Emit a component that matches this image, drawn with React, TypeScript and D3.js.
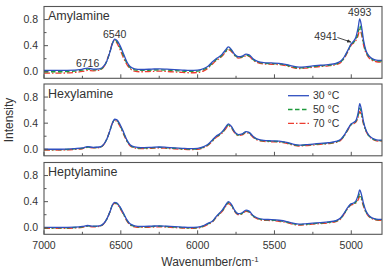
import React from "react";
import * as d3 from "d3";

// wavenumbers (cm-1), shared by all series
const wn = [7000, 6900, 6800, 6750, 6716, 6680, 6640, 6610, 6590, 6570, 6555, 6540, 6525, 6505, 6480, 6460, 6440, 6410, 6370, 6300, 6250, 6200, 6100, 6050, 6000, 5960, 5930, 5905, 5880, 5860, 5840, 5820, 5800, 5780, 5760, 5735, 5710, 5685, 5665, 5640, 5610, 5570, 5520, 5470, 5420, 5380, 5340, 5300, 5250, 5200, 5150, 5100, 5070, 5045, 5020, 5000, 4985, 4970, 4955, 4945, 4935, 4920, 4905, 4890, 4870, 4850, 4825, 4800];

const amyl30 = [0.02, 0.02, 0.025, 0.04, 0.055, 0.04, 0.045, 0.09, 0.17, 0.31, 0.43, 0.5, 0.48, 0.4, 0.26, 0.15, 0.08, 0.045, 0.035, 0.04, 0.045, 0.04, 0.025, 0.02, 0.025, 0.05, 0.09, 0.15, 0.2, 0.23, 0.27, 0.33, 0.38, 0.34, 0.27, 0.23, 0.24, 0.27, 0.26, 0.2, 0.16, 0.14, 0.135, 0.13, 0.11, 0.085, 0.07, 0.075, 0.09, 0.1, 0.11, 0.13, 0.16, 0.23, 0.34, 0.43, 0.47, 0.53, 0.68, 0.81, 0.72, 0.48, 0.33, 0.26, 0.21, 0.185, 0.175, 0.175];
const amyl50 = [0.0, 0.0, 0.01, 0.025, 0.04, 0.03, 0.035, 0.08, 0.17, 0.31, 0.43, 0.49, 0.46, 0.37, 0.23, 0.13, 0.065, 0.03, 0.02, 0.025, 0.03, 0.025, 0.01, 0.005, 0.01, 0.035, 0.075, 0.13, 0.185, 0.215, 0.255, 0.31, 0.36, 0.325, 0.26, 0.22, 0.23, 0.255, 0.245, 0.19, 0.15, 0.13, 0.125, 0.12, 0.1, 0.075, 0.06, 0.065, 0.08, 0.09, 0.1, 0.12, 0.15, 0.22, 0.33, 0.42, 0.45, 0.5, 0.6, 0.71, 0.64, 0.44, 0.31, 0.245, 0.2, 0.175, 0.165, 0.165];
const amyl70 = [-0.02, -0.02, -0.01, 0.005, 0.02, 0.015, 0.025, 0.08, 0.18, 0.32, 0.44, 0.48, 0.44, 0.34, 0.2, 0.11, 0.05, 0.01, 0.0, 0.005, 0.01, 0.005, -0.01, -0.015, -0.01, 0.015, 0.06, 0.115, 0.17, 0.2, 0.24, 0.295, 0.34, 0.31, 0.25, 0.21, 0.22, 0.245, 0.235, 0.18, 0.14, 0.12, 0.115, 0.11, 0.09, 0.065, 0.05, 0.055, 0.07, 0.08, 0.09, 0.11, 0.14, 0.21, 0.32, 0.41, 0.44, 0.48, 0.56, 0.65, 0.59, 0.41, 0.29, 0.23, 0.185, 0.16, 0.15, 0.15];

const hexyl30 = [0.0, 0.0, 0.01, 0.02, 0.04, 0.03, 0.035, 0.08, 0.16, 0.29, 0.4, 0.46, 0.45, 0.38, 0.25, 0.14, 0.07, 0.035, 0.025, 0.03, 0.035, 0.03, 0.015, 0.01, 0.015, 0.04, 0.08, 0.14, 0.2, 0.23, 0.27, 0.33, 0.39, 0.35, 0.27, 0.225, 0.235, 0.27, 0.26, 0.2, 0.155, 0.135, 0.13, 0.125, 0.105, 0.08, 0.065, 0.07, 0.08, 0.09, 0.1, 0.12, 0.15, 0.22, 0.32, 0.39, 0.41, 0.44, 0.56, 0.7, 0.62, 0.42, 0.3, 0.23, 0.18, 0.155, 0.14, 0.14];
const hexyl50 = [-0.005, -0.005, 0.005, 0.015, 0.035, 0.025, 0.03, 0.075, 0.16, 0.29, 0.4, 0.45, 0.44, 0.365, 0.235, 0.13, 0.062, 0.028, 0.018, 0.022, 0.028, 0.022, 0.008, 0.003, 0.008, 0.033, 0.072, 0.13, 0.19, 0.22, 0.26, 0.318, 0.375, 0.338, 0.262, 0.218, 0.228, 0.262, 0.252, 0.193, 0.148, 0.128, 0.123, 0.118, 0.098, 0.073, 0.058, 0.063, 0.073, 0.083, 0.093, 0.113, 0.143, 0.213, 0.313, 0.383, 0.4, 0.43, 0.52, 0.63, 0.57, 0.4, 0.29, 0.222, 0.173, 0.148, 0.133, 0.133];
const hexyl70 = [-0.012, -0.012, -0.002, 0.008, 0.028, 0.02, 0.026, 0.075, 0.165, 0.295, 0.4, 0.44, 0.425, 0.35, 0.22, 0.12, 0.055, 0.02, 0.01, 0.014, 0.02, 0.014, 0.0, -0.005, 0.0, 0.025, 0.065, 0.122, 0.18, 0.21, 0.25, 0.305, 0.36, 0.326, 0.255, 0.21, 0.22, 0.253, 0.243, 0.185, 0.14, 0.12, 0.115, 0.11, 0.09, 0.065, 0.05, 0.055, 0.065, 0.075, 0.085, 0.105, 0.135, 0.205, 0.305, 0.375, 0.39, 0.415, 0.49, 0.58, 0.53, 0.38, 0.28, 0.215, 0.166, 0.14, 0.125, 0.125];

const hepty30 = [0.005, 0.005, 0.01, 0.02, 0.035, 0.025, 0.03, 0.07, 0.14, 0.25, 0.35, 0.39, 0.38, 0.32, 0.21, 0.12, 0.06, 0.03, 0.02, 0.025, 0.03, 0.025, 0.01, 0.005, 0.01, 0.035, 0.07, 0.1, 0.17, 0.22, 0.27, 0.34, 0.4, 0.36, 0.27, 0.215, 0.23, 0.27, 0.255, 0.19, 0.15, 0.13, 0.125, 0.115, 0.095, 0.07, 0.055, 0.06, 0.07, 0.08, 0.09, 0.11, 0.15, 0.23, 0.32, 0.37, 0.38, 0.41, 0.5, 0.58, 0.52, 0.37, 0.26, 0.2, 0.16, 0.14, 0.13, 0.13];
const hepty50 = [-0.002, -0.002, 0.004, 0.014, 0.03, 0.02, 0.025, 0.066, 0.138, 0.248, 0.345, 0.382, 0.37, 0.308, 0.2, 0.112, 0.053, 0.023, 0.013, 0.018, 0.023, 0.018, 0.003, -0.002, 0.003, 0.028, 0.063, 0.093, 0.162, 0.21, 0.26, 0.328, 0.385, 0.348, 0.262, 0.208, 0.222, 0.26, 0.246, 0.183, 0.143, 0.123, 0.118, 0.108, 0.088, 0.063, 0.048, 0.053, 0.063, 0.073, 0.083, 0.103, 0.143, 0.223, 0.312, 0.36, 0.37, 0.395, 0.46, 0.52, 0.47, 0.345, 0.248, 0.192, 0.153, 0.133, 0.123, 0.123];
const hepty70 = [-0.01, -0.01, -0.003, 0.007, 0.022, 0.014, 0.02, 0.064, 0.14, 0.25, 0.342, 0.375, 0.36, 0.295, 0.19, 0.103, 0.045, 0.015, 0.005, 0.01, 0.015, 0.01, -0.005, -0.01, -0.005, 0.02, 0.056, 0.086, 0.155, 0.2, 0.25, 0.318, 0.372, 0.337, 0.255, 0.2, 0.214, 0.25, 0.237, 0.175, 0.135, 0.115, 0.11, 0.1, 0.08, 0.055, 0.04, 0.045, 0.055, 0.065, 0.075, 0.095, 0.135, 0.215, 0.305, 0.352, 0.36, 0.38, 0.43, 0.48, 0.44, 0.325, 0.235, 0.182, 0.145, 0.125, 0.115, 0.115];

const panelNames = ["Amylamine", "Hexylamine", "Heptylamine"];
const panelSeries = [
  [amyl30, amyl50, amyl70],
  [hexyl30, hexyl50, hexyl70],
  [hepty30, hepty50, hepty70],
];
const legendLabels = ["30 \u00B0C", "50 \u00B0C", "70 \u00B0C"];
const seriesColors = ["#2f4fbf", "#1f9a3c", "#ec3d30"];
const seriesDash = ["none", "4.5,2.5", "6,2,1.5,2"];

const xMajor = [7000, 6500, 6000, 5500, 5000];
const xMinor = [6750, 6250, 5750, 5250];
const yMajor = [0, 0.4, 0.8];
const yMinor = [0.2, 0.6];
const yTickLabels = ["0.0", "0.4", "0.8"];

// peak annotations in the top panel: [label, wavenumber, intensity]
const peakLabels: [string, number, number][] = [
  ["6716", 6716, 0.08],
  ["6540", 6540, 0.52],
  ["4993", 4945, 0.85],
];

const W = 391;
const H = 274;
const left = 44;
const right = 382;
const panelTops = [6.5, 84, 162.5];
const panelH = 71.8;
const FONT = "Liberation Sans, Arial, Helvetica, sans-serif";
const TXT = "#333";
const AX = "#555";

export default function App() {
  const x = d3.scaleLinear().domain([7000, 4800]).range([left, right]);
  return (
    <svg width={W} height={H} style={{ position: "absolute", left: 0, top: 0, background: "#fff" }} fontFamily={FONT}>
      <defs>
        {panelTops.map((t, i) => (
          <clipPath id={`clip${i}`} key={i}>
            <rect x={left} y={t} width={right - left} height={panelH} />
          </clipPath>
        ))}
        <marker id="arrowhead" viewBox="0 0 10 10" refX="9" refY="5" markerWidth="5" markerHeight="5" orient="auto">
          <path d="M0,1 L10,5 L0,9 z" fill="#333" />
        </marker>
      </defs>
      {panelTops.map((top, pi) => {
        const y = d3.scaleLinear().domain([-0.1, 1.0]).range([top + panelH, top]);
        const bottom = top + panelH;
        const line = d3
          .line<number>()
          .x((_, i) => x(wn[i]))
          .y((v) => y(v))
          .curve(d3.curveMonotoneX);
        return (
          <g key={pi}>
            <g clipPath={`url(#clip${pi})`}>
              {panelSeries[pi]
                .map((s, si) => ({ s, si }))
                .reverse()
                .map(({ s, si }) => (
                  <path
                    key={si}
                    d={line(s) || ""}
                    fill="none"
                    stroke={seriesColors[si]}
                    strokeWidth={1.3}
                    strokeDasharray={seriesDash[si]}
                  />
                ))}
            </g>
            <rect x={left} y={top} width={right - left} height={panelH} fill="none" stroke={AX} strokeWidth={1.1} />
            {xMajor.map((v) => (
              <line key={v} x1={x(v)} x2={x(v)} y1={bottom} y2={bottom - 4} stroke={AX} strokeWidth={1} />
            ))}
            {xMinor.map((v) => (
              <line key={v} x1={x(v)} x2={x(v)} y1={bottom} y2={bottom - 2.5} stroke={AX} strokeWidth={1} />
            ))}
            {yMajor.map((v, i) => (
              <g key={v}>
                <line x1={left} x2={left + 4} y1={y(v)} y2={y(v)} stroke={AX} strokeWidth={1} />
                <text x={38} y={y(v)} dy="0.35em" textAnchor="end" fontSize={10.5} fill={TXT}>
                  {yTickLabels[i]}
                </text>
              </g>
            ))}
            {yMinor.map((v) => (
              <line key={v} x1={left} x2={left + 2.5} y1={y(v)} y2={y(v)} stroke={AX} strokeWidth={1} />
            ))}
            <text x={48} y={top + 13.5} fontSize={12.5} fill={TXT}>
              {panelNames[pi]}
            </text>
            {pi === 0 &&
              peakLabels.map(([lab, w, v]) => (
                <text key={lab} x={x(w)} y={y(v)} textAnchor="middle" fontSize={10.5} fill={TXT}>
                  {lab}
                </text>
              ))}
            {pi === 0 && (
              <g>
                <text x={x(5165)} y={y(0.49)} textAnchor="middle" fontSize={10.5} fill={TXT}>
                  4941
                </text>
                <line
                  x1={x(5090)}
                  y1={y(0.525)}
                  x2={x(5002)}
                  y2={y(0.455)}
                  stroke="#333"
                  strokeWidth={0.9}
                  markerEnd="url(#arrowhead)"
                />
              </g>
            )}
            {pi === 1 &&
              legendLabels.map((lab, si) => (
                <g key={lab}>
                  <line
                    x1={288}
                    x2={309}
                    y1={top + 11.7 + si * 13.8}
                    y2={top + 11.7 + si * 13.8}
                    stroke={seriesColors[si]}
                    strokeWidth={1.3}
                    strokeDasharray={seriesDash[si]}
                  />
                  <text x={313} y={top + 11.7 + si * 13.8} dy="0.35em" fontSize={10.5} fill={TXT}>
                    {lab}
                  </text>
                </g>
              ))}
          </g>
        );
      })}
      {xMajor.map((v) => (
        <text key={v} x={x(v)} y={248.5} textAnchor="middle" fontSize={10.5} fill={TXT}>
          {v}
        </text>
      ))}
      <text x={210} y={266} textAnchor="middle" fontSize={12} fill={TXT}>
        Wavenumber/cm<tspan dy={-4.5} fontSize={8}>-1</tspan>
      </text>
      <text transform="translate(13,120) rotate(-90)" textAnchor="middle" fontSize={12} fill={TXT}>
        Intensity
      </text>
    </svg>
  );
}
